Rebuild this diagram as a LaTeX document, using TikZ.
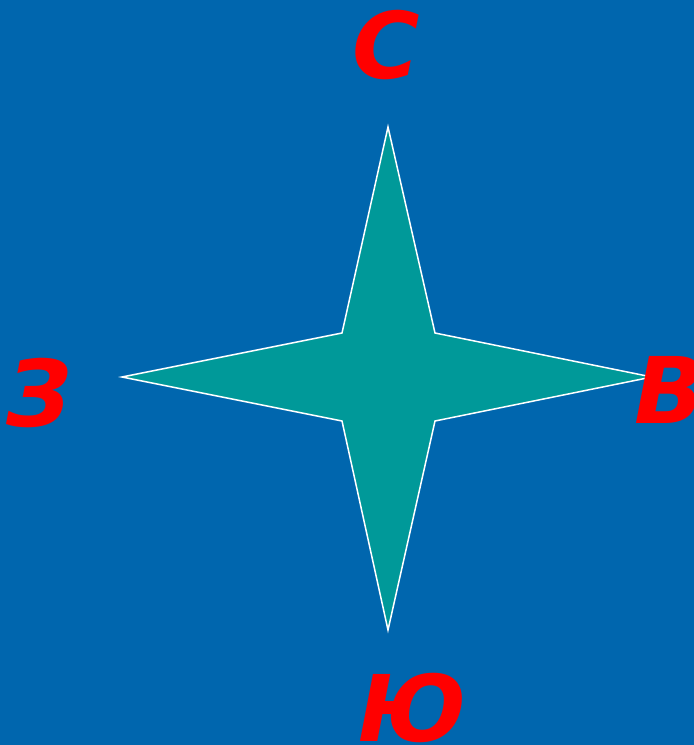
\documentclass[tikz,border=0pt]{standalone}
\usepackage{fontspec}
\setmainfont{DejaVu Sans}
\definecolor{sky}{HTML}{0066AE}
\definecolor{starfill}{HTML}{009999}
\tikzset{letter/.style={text=red, inner sep=0pt,
           font=\fontsize{92}{92}\selectfont\bfseries\itshape},
         rose/.style={draw=white, fill=starfill, line width=1.5pt, line join=miter}}
\begin{document}
\begin{tikzpicture}[x=1pt, y=-1pt]
  \fill[sky] (0,0) rectangle (694,745);
  \useasboundingbox (0,0) rectangle (694,745);
  % star
  \draw[rose] (388,127) -- (435,333) -- (652,377) -- (435,421)
              -- (388,630) -- (342,421) -- (122,377) -- (342,333) -- cycle;
  % directions
  \node[letter] (north) at (386,45)  {С};
  \node[letter] (east)  at (670,390) {В};
  \node[letter] (south) at (412,708) {Ю};
  \node[letter] (west)  at (39,393)  {З};
\end{tikzpicture}
\end{document}
